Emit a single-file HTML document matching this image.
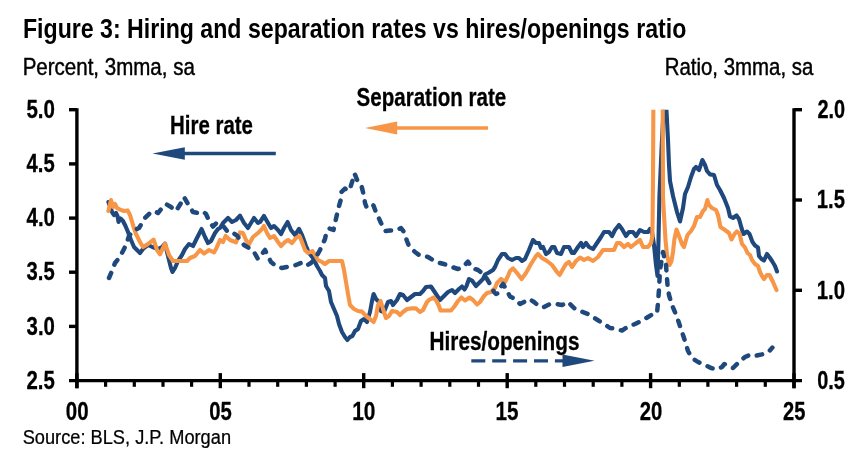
<!DOCTYPE html>
<html lang="en"><head><meta charset="utf-8"><title>Figure 3: Hiring and separation rates vs hires/openings ratio</title>
<style>html,body{margin:0;padding:0;background:#fff}body{width:852px;height:460px;overflow:hidden}</style></head>
<body>
<svg width="852" height="460" viewBox="0 0 852 460" style="display:block">
<rect width="852" height="460" fill="#ffffff"/>
<defs><clipPath id="plot"><rect x="76.9" y="109.7" width="717.1" height="272.90000000000003"/></clipPath></defs>
<g font-family="'Liberation Sans', sans-serif" fill="#000">
<text transform="translate(22.98 37.50) scale(0.8151 1)" font-size="28.4" font-weight="bold" >Figure 3: Hiring and separation rates vs hires/openings ratio</text>
<text transform="translate(22.66 74.70) scale(0.8590 1)" font-size="23.9"  stroke="#000" stroke-width="0.45">Percent, 3mma, sa</text>
<text transform="translate(664.67 74.70) scale(0.8548 1)" font-size="23.9"  stroke="#000" stroke-width="0.45">Ratio, 3mma, sa</text>
<text transform="translate(26.38 117.90) scale(0.8179 1)" font-size="25.1" font-weight="bold"  stroke="#000" stroke-width="0.3">5.0</text>
<text transform="translate(26.60 172.08) scale(0.8057 1)" font-size="25.1" font-weight="bold"  stroke="#000" stroke-width="0.3">4.5</text>
<text transform="translate(26.59 226.26) scale(0.8118 1)" font-size="25.1" font-weight="bold"  stroke="#000" stroke-width="0.3">4.0</text>
<text transform="translate(26.60 280.44) scale(0.8057 1)" font-size="25.1" font-weight="bold"  stroke="#000" stroke-width="0.3">3.5</text>
<text transform="translate(26.59 334.62) scale(0.8118 1)" font-size="25.1" font-weight="bold"  stroke="#000" stroke-width="0.3">3.0</text>
<text transform="translate(26.39 388.80) scale(0.8118 1)" font-size="25.1" font-weight="bold"  stroke="#000" stroke-width="0.3">2.5</text>
<text transform="translate(817.40 117.90) scale(0.7938 1)" font-size="25.1" font-weight="bold"  stroke="#000" stroke-width="0.3">2.0</text>
<text transform="translate(816.79 208.20) scale(0.8060 1)" font-size="25.1" font-weight="bold"  stroke="#000" stroke-width="0.3">1.5</text>
<text transform="translate(816.78 298.50) scale(0.8123 1)" font-size="25.1" font-weight="bold"  stroke="#000" stroke-width="0.3">1.0</text>
<text transform="translate(817.20 388.80) scale(0.7938 1)" font-size="25.1" font-weight="bold"  stroke="#000" stroke-width="0.3">0.5</text>
<text transform="translate(65.78 419.60) scale(0.8162 1)" font-size="25.1" font-weight="bold"  stroke="#000" stroke-width="0.3">00</text>
<text transform="translate(209.21 419.60) scale(0.8083 1)" font-size="25.1" font-weight="bold"  stroke="#000" stroke-width="0.3">05</text>
<text transform="translate(352.19 419.60) scale(0.8323 1)" font-size="25.1" font-weight="bold"  stroke="#000" stroke-width="0.3">10</text>
<text transform="translate(495.62 419.60) scale(0.8242 1)" font-size="25.1" font-weight="bold"  stroke="#000" stroke-width="0.3">15</text>
<text transform="translate(639.67 419.60) scale(0.8083 1)" font-size="25.1" font-weight="bold"  stroke="#000" stroke-width="0.3">20</text>
<text transform="translate(783.10 419.60) scale(0.8006 1)" font-size="25.1" font-weight="bold"  stroke="#000" stroke-width="0.3">25</text>
<text transform="translate(170.07 133.70) scale(0.8107 1)" font-size="25.2" font-weight="bold"  stroke="#000" stroke-width="0.3">Hire rate</text>
<text transform="translate(356.58 105.50) scale(0.8156 1)" font-size="25.2" font-weight="bold"  stroke="#000" stroke-width="0.3">Separation rate</text>
<text transform="translate(429.55 349.50) scale(0.8238 1)" font-size="25.2" font-weight="bold"  stroke="#000" stroke-width="0.3">Hires/openings</text>
<text transform="translate(22.69 443.60) scale(0.8855 1)" font-size="20.6"  stroke="#000" stroke-width="0.25">Source: BLS, J.P. Morgan</text>
</g>
<g clip-path="url(#plot)" fill="none" stroke-linejoin="round" stroke-linecap="round">
<path d="M108.4 202.0 L111.0 209.0 L112.5 213.0 L114.0 215.0 L116.0 213.0 L117.5 216.0 L118.5 222.0 L120.5 218.5 L123.0 221.0 L125.5 226.0 L128.0 232.0 L131.0 240.0 L134.0 247.0 L137.0 250.0 L140.0 253.0 L143.0 249.0 L148.0 245.0 L152.4 247.0 L158.0 249.0 L162.0 247.0 L165.0 243.6 L168.0 256.0 L171.0 268.0 L172.5 272.0 L175.0 268.0 L178.0 261.0 L182.0 255.0 L185.0 249.0 L189.0 244.0 L193.0 246.0 L197.0 238.0 L201.6 229.0 L205.0 237.0 L208.0 243.0 L211.0 241.0 L215.0 233.0 L218.0 229.0 L220.0 228.0 L223.0 223.0 L228.0 218.0 L232.0 222.0 L236.0 220.0 L240.0 215.6 L244.0 223.0 L248.0 228.0 L254.0 218.0 L258.0 223.0 L260.0 222.0 L264.0 216.0 L268.0 223.0 L271.0 228.0 L274.0 226.0 L278.0 230.0 L281.0 234.0 L284.0 228.0 L287.6 222.0 L291.0 230.0 L295.0 235.0 L299.0 229.0 L302.0 235.0 L306.0 246.0 L309.0 253.0 L313.0 258.0 L317.0 266.0 L320.0 271.0 L322.0 275.0 L325.0 278.0 L326.0 286.0 L329.0 291.0 L331.0 302.0 L334.0 309.0 L337.0 316.0 L339.0 324.0 L342.0 332.0 L345.0 337.0 L347.4 340.0 L350.0 337.0 L352.4 336.0 L355.0 331.0 L358.0 329.0 L361.0 321.0 L364.0 319.0 L367.0 322.0 L370.0 312.0 L372.0 301.0 L373.6 294.0 L376.0 299.0 L379.0 302.0 L381.0 311.0 L384.0 312.0 L388.0 302.0 L391.0 301.0 L393.0 305.0 L397.0 300.0 L400.0 294.0 L403.0 295.0 L407.0 300.0 L411.0 297.0 L415.0 294.0 L420.0 294.0 L423.0 291.0 L426.0 287.0 L431.0 286.5 L436.0 294.0 L440.0 300.0 L444.0 296.0 L448.0 292.0 L452.0 290.0 L455.0 293.0 L459.0 289.0 L462.0 286.5 L464.5 289.5 L466.5 286.0 L469.0 279.0 L472.0 280.5 L476.0 286.0 L480.0 282.0 L483.0 279.0 L485.0 274.5 L489.0 272.5 L493.0 270.0 L495.0 267.0 L498.0 260.0 L502.0 254.0 L505.0 254.0 L508.0 258.0 L512.0 260.0 L516.0 258.0 L519.0 258.0 L522.0 261.0 L525.0 259.0 L529.0 250.0 L533.0 240.0 L536.0 243.0 L539.0 243.0 L541.0 248.0 L543.0 247.0 L546.0 254.0 L549.0 252.0 L552.0 247.0 L554.4 247.0 L557.0 253.0 L561.0 254.0 L564.0 247.0 L569.0 247.0 L572.0 253.0 L574.0 253.0 L578.0 247.0 L581.0 243.0 L583.0 247.0 L586.0 243.0 L589.0 247.0 L593.0 249.0 L597.0 243.0 L601.0 237.0 L604.0 232.0 L609.0 232.0 L612.0 236.0 L615.0 230.0 L619.0 225.0 L622.0 229.0 L626.0 236.0 L629.0 232.0 L633.0 232.0 L636.0 236.0 L640.0 230.0 L644.0 232.0 L648.0 232.0 L650.0 229.0 L652.0 232.0 L654.0 245.0 L656.0 265.0 L657.5 276.0 L658.5 240.0 L659.4 197.0 L661.5 150.0 L663.6 109.0 L664.6 60.0 M665.6 60.0 L666.4 109.0 L668.0 140.0 L669.0 165.0 L670.0 181.0 L673.0 196.0 L677.0 212.0 L680.0 221.5 L683.0 208.0 L685.0 194.0 L688.0 187.0 L691.0 177.0 L694.0 169.0 L696.0 167.0 L699.0 170.0 L702.4 160.0 L705.0 165.0 L707.0 171.0 L710.0 174.4 L714.0 175.0 L717.0 185.0 L720.0 190.0 L724.0 198.0 L728.0 208.0 L730.0 216.5 L733.0 218.0 L736.5 215.5 L739.0 219.0 L741.5 228.0 L743.5 234.0 L747.0 231.5 L749.5 234.0 L752.5 242.0 L755.0 245.5 L758.0 247.5 L759.0 256.0 L761.5 259.0 L764.0 260.5 L767.0 254.0 L770.0 258.0 L772.0 261.0 L775.0 266.0 L777.0 271.5" stroke="#1F497D" stroke-width="4.1"/>
<path d="M108.4 211.0 L111.0 200.0 L113.0 207.0 L115.0 204.0 L117.0 208.0 L120.0 209.6 L124.0 211.0 L127.6 210.4 L130.0 215.0 L133.0 225.0 L136.0 234.0 L140.0 242.0 L143.0 247.0 L148.0 244.0 L153.6 239.6 L157.0 250.0 L160.0 254.4 L165.0 243.6 L169.0 255.0 L173.0 261.0 L187.0 261.0 L190.0 258.0 L195.0 256.0 L200.0 250.0 L204.0 253.6 L209.0 250.0 L214.0 252.4 L216.0 249.0 L220.0 240.0 L223.0 242.0 L225.6 236.0 L230.0 240.0 L236.0 242.4 L240.0 232.4 L243.0 233.0 L246.0 240.0 L249.0 244.4 L253.0 237.0 L258.0 233.0 L262.0 229.0 L264.0 226.0 L267.0 233.0 L270.0 238.0 L274.0 236.0 L278.0 242.0 L281.0 246.0 L285.0 242.0 L288.0 240.0 L292.0 243.0 L296.0 238.0 L299.6 236.0 L302.0 242.0 L305.0 250.0 L308.0 253.0 L312.4 251.0 L315.0 255.0 L318.0 260.0 L322.0 262.0 L325.0 264.0 L329.0 261.0 L342.0 261.0 L344.0 270.0 L346.0 282.0 L348.0 294.0 L350.0 305.0 L354.0 309.0 L358.0 311.0 L362.0 311.6 L366.0 316.0 L370.0 319.0 L373.6 322.0 L376.0 316.0 L378.0 305.0 L380.6 301.0 L383.0 309.0 L386.0 318.0 L389.0 316.0 L392.0 311.0 L397.0 312.0 L400.0 315.0 L403.0 312.0 L407.0 309.0 L412.0 308.4 L416.0 308.4 L420.0 312.0 L423.0 310.0 L427.0 302.0 L429.0 300.0 L433.5 297.5 L436.5 301.0 L439.0 306.0 L440.5 310.5 L451.0 310.5 L454.0 307.0 L458.0 301.0 L461.5 297.5 L465.0 300.5 L469.5 297.5 L473.0 300.0 L477.0 304.5 L480.0 302.0 L484.0 296.0 L487.0 293.0 L491.0 292.0 L495.0 288.0 L497.0 283.0 L501.0 279.0 L505.0 282.0 L508.0 276.0 L510.0 271.0 L513.0 268.4 L517.0 273.0 L521.6 279.0 L526.0 273.0 L531.0 264.0 L536.0 256.0 L538.0 254.0 L542.0 258.0 L547.0 261.0 L552.0 265.0 L557.0 272.0 L559.6 275.0 L563.0 269.0 L566.0 264.0 L569.0 262.0 L572.0 267.0 L576.0 261.0 L580.0 257.6 L584.0 260.0 L588.0 258.0 L593.0 261.0 L598.0 257.0 L603.0 250.0 L608.0 250.0 L614.0 250.0 L617.0 243.0 L620.0 243.0 L624.0 247.0 L628.0 244.0 L631.0 247.0 L636.0 243.0 L640.0 240.0 L643.0 247.0 L648.0 247.0 L651.0 243.0 L652.4 236.0 L653.0 180.0 L653.6 60.0 M662.6 60.0 L663.0 197.0 L664.0 215.0 L665.5 240.0 L667.0 255.0 L668.5 261.5 L669.5 265.0 L671.5 261.0 L673.0 252.0 L674.3 240.0 L676.5 229.5 L679.0 236.0 L682.0 244.0 L684.0 247.0 L686.0 240.0 L687.5 235.0 L691.0 231.0 L694.0 226.0 L697.0 217.0 L700.0 217.0 L703.0 211.0 L705.0 209.0 L707.4 200.0 L709.0 205.0 L712.0 208.0 L716.0 210.0 L718.0 215.0 L720.5 227.0 L725.0 230.0 L729.0 233.0 L731.5 239.5 L734.5 234.0 L737.0 231.5 L739.5 233.5 L742.0 244.0 L745.0 247.5 L747.5 253.0 L750.0 255.0 L752.0 260.0 L755.0 264.0 L758.0 266.0 L760.0 272.0 L762.0 276.0 L764.0 279.0 L767.0 275.0 L769.5 275.0 L773.0 282.0 L776.5 290.0" stroke="#F79646" stroke-width="4.1"/>
<path d="M109.0 278.0 L112.0 271.0 L115.0 263.0 L119.0 258.0 L123.0 251.0 L126.0 245.0 L129.0 236.0 L133.0 231.0 L139.0 228.0 L145.0 218.0 L150.0 213.0 L154.0 211.0 L158.0 213.0 L162.0 208.0 L166.0 204.0 L171.0 207.0 L176.0 211.0 L181.0 203.0 L184.0 197.0 L188.0 204.0 L193.0 212.0 L198.0 213.0 L203.0 211.5 L206.0 214.0 L208.5 219.5 L211.0 224.0 L213.0 226.5 L216.0 223.5 L220.0 223.0 L224.0 227.0 L227.0 231.0 L230.0 233.5 L234.0 233.5 L237.5 236.0 L239.5 239.5 L244.0 245.0 L249.0 248.0 L254.0 252.0 L258.0 259.0 L262.0 254.0 L265.0 250.0 L268.0 256.0 L271.0 262.0 L276.0 266.0 L282.0 268.0 L290.0 266.4 L296.0 265.0 L301.0 263.0 L306.0 266.0 L311.0 263.0 L315.0 259.0 L320.0 250.0 L325.0 239.0 L326.5 232.0 L329.5 228.5 L333.5 230.0 L335.0 223.0 L338.5 208.0 L341.0 199.0 L341.5 192.0 L345.0 188.5 L348.0 191.0 L350.5 187.0 L353.0 179.0 L354.5 173.5 L358.0 182.0 L361.5 186.0 L364.0 196.0 L365.0 203.0 L366.5 207.0 L369.5 204.0 L373.5 205.5 L375.5 211.0 L377.0 214.0 L381.0 223.0 L385.0 231.0 L390.0 230.4 L396.0 230.4 L401.0 228.0 L404.0 232.0 L407.0 241.0 L409.0 246.0 L415.0 252.0 L420.0 255.6 L428.0 257.0 L436.0 262.0 L444.0 264.0 L452.0 267.0 L458.0 269.0 L463.0 267.0 L468.0 261.6 L472.0 268.0 L478.0 270.0 L483.0 274.0 L487.0 279.0 L491.0 286.0 L494.0 292.0 L496.0 294.0 L498.5 293.0 L501.0 286.5 L503.0 284.0 L506.0 289.0 L510.0 296.5 L515.0 299.0 L520.0 304.0 L524.0 302.0 L529.0 299.0 L534.0 302.0 L540.0 307.0 L544.0 307.0 L550.0 304.0 L556.0 304.0 L562.0 305.0 L568.0 302.0 L574.0 308.0 L580.0 311.0 L588.0 314.0 L596.0 319.0 L604.0 324.0 L610.0 328.0 L616.0 328.6 L622.0 330.6 L628.0 326.6 L635.0 324.0 L642.0 320.6 L648.0 317.0 L652.0 314.6 L657.0 313.0 L658.0 303.0 L659.0 289.0 L660.0 270.0 L663.0 252.0 L666.0 265.0 L667.5 285.0 L669.0 295.0 L672.0 305.0 L677.0 317.0 L681.0 329.0 L685.0 341.0 L688.0 351.0 L692.0 358.0 L698.0 362.0 L705.0 365.0 L711.0 368.0 L717.0 369.4 L722.0 367.0 L724.4 364.0 L729.0 366.0 L733.0 368.0 L738.0 363.0 L745.0 357.0 L751.0 354.4 L756.0 355.6 L762.0 354.4 L768.0 352.4 L772.4 347.6" stroke="#1F497D" stroke-width="4.5" stroke-dasharray="5.5 8.9"/>
</g>
<g stroke="#000" stroke-width="3.4" fill="none" stroke-linecap="butt">
<path d="M76.9 108.2 V388.20000000000005"/>
<path d="M794.0 108.2 V388.20000000000005"/>
<path d="M69.0 380.6 H802.0"/>
<path d="M69.0 109.7 H76.9"/>
<path d="M69.0 163.9 H76.9"/>
<path d="M69.0 218.1 H76.9"/>
<path d="M69.0 272.2 H76.9"/>
<path d="M69.0 326.4 H76.9"/>
<path d="M794.0 109.7 H802.0"/>
<path d="M794.0 200.0 H802.0"/>
<path d="M794.0 290.3 H802.0"/>
<path d="M76.9 373.1 V388.20000000000005"/>
<path d="M105.6 380.6 V386.8" stroke-width="3.2"/>
<path d="M134.3 380.6 V386.8" stroke-width="3.2"/>
<path d="M163.0 380.6 V386.8" stroke-width="3.2"/>
<path d="M191.6 380.6 V386.8" stroke-width="3.2"/>
<path d="M220.3 373.1 V388.20000000000005"/>
<path d="M249.0 380.6 V386.8" stroke-width="3.2"/>
<path d="M277.7 380.6 V386.8" stroke-width="3.2"/>
<path d="M306.4 380.6 V386.8" stroke-width="3.2"/>
<path d="M335.1 380.6 V386.8" stroke-width="3.2"/>
<path d="M363.7 373.1 V388.20000000000005"/>
<path d="M392.4 380.6 V386.8" stroke-width="3.2"/>
<path d="M421.1 380.6 V386.8" stroke-width="3.2"/>
<path d="M449.8 380.6 V386.8" stroke-width="3.2"/>
<path d="M478.5 380.6 V386.8" stroke-width="3.2"/>
<path d="M507.2 373.1 V388.20000000000005"/>
<path d="M535.8 380.6 V386.8" stroke-width="3.2"/>
<path d="M564.5 380.6 V386.8" stroke-width="3.2"/>
<path d="M593.2 380.6 V386.8" stroke-width="3.2"/>
<path d="M621.9 380.6 V386.8" stroke-width="3.2"/>
<path d="M650.6 373.1 V388.20000000000005"/>
<path d="M679.3 380.6 V386.8" stroke-width="3.2"/>
<path d="M707.9 380.6 V386.8" stroke-width="3.2"/>
<path d="M736.6 380.6 V386.8" stroke-width="3.2"/>
<path d="M765.3 380.6 V386.8" stroke-width="3.2"/>
<path d="M794.0 373.1 V388.20000000000005"/>
</g>
<path d="M184 153.5 H275.8" stroke="#1F497D" stroke-width="3.3" fill="none"/>
<path d="M152.5 153.5 L184.8 147.2 V159.8 Z" fill="#1F497D"/>
<path d="M396.5 128 H488" stroke="#F79646" stroke-width="3.3" fill="none"/>
<path d="M364.9 128 L397.2 121.5 V134.5 Z" fill="#F79646"/>
<path d="M471.3 360.8 H565" stroke="#1F497D" stroke-width="3.2" fill="none" stroke-dasharray="14 6.9"/>
<path d="M594.5 360.8 L562.5 354.5 V367 Z" fill="#1F497D"/>
</svg>
</body></html>
